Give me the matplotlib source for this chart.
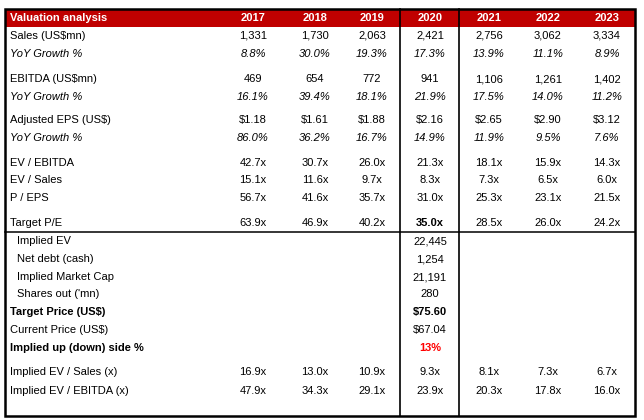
import matplotlib
matplotlib.use('Agg')
import matplotlib.pyplot as plt
from matplotlib.patches import Rectangle

plt.rcParams['font.family'] = ['Liberation Sans', 'DejaVu Sans']

# data
title = 'Valuation analysis'
years = ['2017', '2018', '2019', '2020', '2021', '2022', '2023']
sales = [1331, 1730, 2063, 2421, 2756, 3062, 3334]
sales_growth = [8.8, 30.0, 19.3, 17.3, 13.9, 11.1, 8.9]
ebitda = [469, 654, 772, 941, 1106, 1261, 1402]
ebitda_growth = [16.1, 39.4, 18.1, 21.9, 17.5, 14.0, 11.2]
adj_eps = [1.18, 1.61, 1.88, 2.16, 2.65, 2.90, 3.12]
eps_growth = [86.0, 36.2, 16.7, 14.9, 11.9, 9.5, 7.6]
ev_ebitda = [42.7, 30.7, 26.0, 21.3, 18.1, 15.9, 14.3]
ev_sales = [15.1, 11.6, 9.7, 8.3, 7.3, 6.5, 6.0]
p_eps = [56.7, 41.6, 35.7, 31.0, 25.3, 23.1, 21.5]
target_pe = [63.9, 46.9, 40.2, 35.0, 28.5, 26.0, 24.2]
implied_ev = 22445
net_debt = 1254
implied_mcap = 21191
shares_out = 280
target_price = 75.60
current_price = 67.04
upside_pct = 13
impl_ev_sales = [16.9, 13.0, 10.9, 9.3, 8.1, 7.3, 6.7]
impl_ev_ebitda = [47.9, 34.3, 29.1, 23.9, 20.3, 17.8, 16.0]

# layout (pixel coords)
col_x = [253, 315, 372, 430, 489, 548, 607]
fs = 8.0
red = '#C00000'

fig = plt.figure(figsize=(6.44, 4.2), dpi=100)
ax = fig.add_axes([0, 0, 1, 1])
ax.set_xlim(0, 644)
ax.set_ylim(420, 0)
ax.axis('off')

# header band
ax.add_patch(Rectangle((5, 9), 630, 18, facecolor=red, edgecolor='none'))
ax.text(10, 18, title, color='white', fontsize=fs, fontweight='bold', va='center')
for x, yr in zip(col_x, years):
    ax.text(x, 18, yr, color='white', fontsize=fs, fontweight='bold', va='center', ha='center')

def row(y, label, vals, fmt, italic=False, bold_idx=None, indent=False):
    ax.text(17 if indent else 10, y, label, fontsize=fs, va='center',
            style='italic' if italic else 'normal')
    for i, v in enumerate(vals):
        ax.text(col_x[i], y, fmt(v), fontsize=fs, va='center', ha='center',
                style='italic' if italic else 'normal',
                fontweight='bold' if bold_idx == i else 'normal')

pct = lambda v: f'{v:.1f}%'
mult = lambda v: f'{v:.1f}x'
num = lambda v: f'{v:,.0f}'
usd = lambda v: f'${v:.2f}'

row(36, 'Sales (US$mn)', sales, num)
row(54, 'YoY Growth %', sales_growth, pct, italic=True)
row(79, 'EBITDA (US$mn)', ebitda, num)
row(97, 'YoY Growth %', ebitda_growth, pct, italic=True)
row(120, 'Adjusted EPS (US$)', adj_eps, usd)
row(138, 'YoY Growth %', eps_growth, pct, italic=True)
row(163, 'EV / EBITDA', ev_ebitda, mult)
row(180, 'EV / Sales', ev_sales, mult)
row(198, 'P / EPS', p_eps, mult)
row(223, 'Target P/E', target_pe, mult, bold_idx=3)

# 2020 valuation block
c20 = col_x[3]
ax.text(17, 241, 'Implied EV', fontsize=fs, va='center')
ax.text(c20, 241, num(implied_ev), fontsize=fs, va='center', ha='center')
ax.text(17, 259, 'Net debt (cash)', fontsize=fs, va='center')
ax.text(c20, 259, num(net_debt), fontsize=fs, va='center', ha='center')
ax.text(17, 277, 'Implied Market Cap', fontsize=fs, va='center')
ax.text(c20, 277, num(implied_mcap), fontsize=fs, va='center', ha='center')
ax.text(17, 294, "Shares out ('mn)", fontsize=fs, va='center')
ax.text(c20, 294, num(shares_out), fontsize=fs, va='center', ha='center')
ax.text(10, 312, 'Target Price (US$)', fontsize=fs, va='center', fontweight='bold')
ax.text(c20, 312, usd(target_price), fontsize=fs, va='center', ha='center', fontweight='bold')
ax.text(10, 330, 'Current Price (US$)', fontsize=fs, va='center')
ax.text(c20, 330, usd(current_price), fontsize=fs, va='center', ha='center')
ax.text(10, 348, 'Implied up (down) side %', fontsize=fs, va='center', fontweight='bold')
ax.text(c20, 348, f'{upside_pct}%', fontsize=fs, va='center', ha='center',
        fontweight='bold', color='#FF0000')

row(372, 'Implied EV / Sales (x)', impl_ev_sales, mult)
row(391, 'Implied EV / EBITDA (x)', impl_ev_ebitda, mult)

# grid lines
ax.plot([400, 400], [9, 416], color='black', lw=1.2)
ax.plot([459, 459], [9, 416], color='black', lw=1.2)
ax.plot([5, 635], [231.5, 231.5], color='black', lw=1.1)
ax.add_patch(Rectangle((5, 9), 630, 407, facecolor='none', edgecolor='black', lw=1.8))

fig.savefig('out.png', dpi=100)
